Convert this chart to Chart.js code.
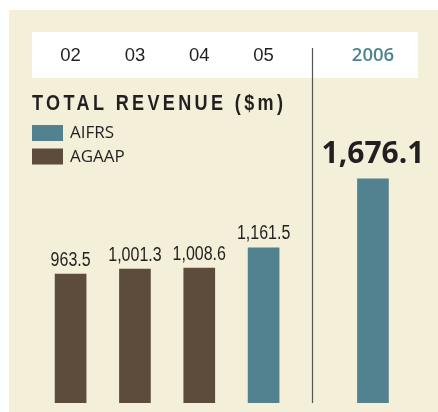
<!DOCTYPE html>
<html><head><meta charset="utf-8">
<script src="https://cdn.jsdelivr.net/npm/chart.js@4.4.0/dist/chart.umd.min.js"></script>
<style>html,body{margin:0;padding:0;background:#fff}</style>
</head><body><canvas id="c" width="438" height="412"></canvas>
<script>
// ---- data ----
const years = ['02', '03', '04', '05', '2006'];
const agaapValues = [963.5, 1001.3, 1008.6, null, null];
const aifrsValues = [null, null, null, 1161.5, 1676.1];
const valueLabels = ['963.5', '1,001.3', '1,008.6', '1,161.5', '1,676.1'];
const seriesNames = ['AIFRS', 'AGAAP'];
const chartTitle = 'TOTAL REVENUE ($m)';

// ---- layout ----
const slotPos = [0, 1, 2, 3, 4.7];
const dividerAt = 3.755;
const COLORS = { AIFRS: '#52818F', AGAAP: '#5D4C3C' };
const INK = '#231F20';
const NARROW = 0.82;

function pts(vals) {
  return slotPos.map((x, i) => ({ x, y: vals[i] })).filter(p => p.y != null);
}

function narrowText(c, text, x, y, font, align, spacing) {
  c.save();
  c.font = font;
  c.textAlign = align;
  c.textBaseline = 'alphabetic';
  if (spacing) { try { c.letterSpacing = spacing; } catch (e) {} }
  c.translate(x, y);
  c.scale(NARROW, 1);
  c.fillText(text, 0, 0);
  c.restore();
}

const deco = {
  id: 'deco',
  beforeDraw(chart) {
    const c = chart.ctx;
    c.save();
    c.fillStyle = '#F3EFD8';
    c.fillRect(9, 10, 429, 402);
    c.fillStyle = '#FFFFFF';
    c.fillRect(32, 32, 386, 46);
    c.restore();
  },
  afterDatasetsDraw(chart) {
    const c = chart.ctx;
    const xs = chart.scales.x;
    const area = chart.chartArea;
    c.save();
    // divider
    const dx = Math.round(xs.getPixelForValue(dividerAt)) + 0.5;
    c.strokeStyle = '#555555';
    c.lineWidth = 1.2;
    c.beginPath(); c.moveTo(dx, 48); c.lineTo(dx, area.bottom); c.stroke();

    // value labels
    c.fillStyle = INK;
    chart.data.datasets.forEach((ds, di) => {
      const meta = chart.getDatasetMeta(di);
      meta.data.forEach((el, j) => {
        const i = slotPos.indexOf(ds.data[j].x);
        if (i === slotPos.length - 1) {
          c.font = '700 30px "Open Sans"';
          c.textAlign = 'center';
          c.textBaseline = 'alphabetic';
          c.fillText(valueLabels[i], el.x, el.y - 16);
        } else {
          narrowText(c, valueLabels[i], el.x, el.y - 8.5, '19.5px "Liberation Sans"', 'center');
        }
      });
    });

    // title
    narrowText(c, chartTitle, 32, 110, '700 22px "Liberation Sans"', 'left', '4.1px');

    // legend
    const baselines = [138, 161.5];
    c.textAlign = 'left';
    c.textBaseline = 'alphabetic';
    seriesNames.forEach((name, k) => {
      const ds = chart.data.datasets.find(d => d.label === name);
      c.fillStyle = ds.backgroundColor;
      c.fillRect(32, baselines[k] - 13, 31, 16);
      c.fillStyle = INK;
      c.font = '17px "Open Sans"';
      c.fillText(name, 70, baselines[k]);
    });
    c.restore();
  }
};

new Chart(document.getElementById('c'), {
  type: 'bar',
  data: {
    datasets: [
      { label: 'AGAAP', data: pts(agaapValues), backgroundColor: COLORS.AGAAP, barThickness: 31, grouped: false },
      { label: 'AIFRS', data: pts(aifrsValues), backgroundColor: COLORS.AIFRS, barThickness: 31, grouped: false }
    ]
  },
  options: {
    responsive: false,
    animation: false,
    layout: { padding: { left: 32, right: 20, top: 35, bottom: 9 } },
    plugins: { legend: { display: false }, tooltip: { enabled: false } },
    scales: {
      x: {
        type: 'linear',
        position: 'top',
        offset: false,
        min: -0.6,
        max: 5.4,
        grid: { display: false, offset: false },
        border: { display: false },
        afterBuildTicks: s => { s.ticks = slotPos.map(v => ({ value: v })); },
        ticks: {
          autoSkip: false,
          maxRotation: 0,
          padding: 10,
          callback: (v, i) => years[i],
          color: ctx => ctx.index === years.length - 1 ? '#4F8391' : INK,
          font: ctx => ctx.index === years.length - 1
            ? { family: 'Open Sans', size: 18.5, weight: '600' }
            : { family: 'Liberation Sans', size: 18.5 }
        }
      },
      y: { display: false, min: 0, max: 2377 }
    }
  },
  plugins: [deco]
});
</script>
</body></html>
